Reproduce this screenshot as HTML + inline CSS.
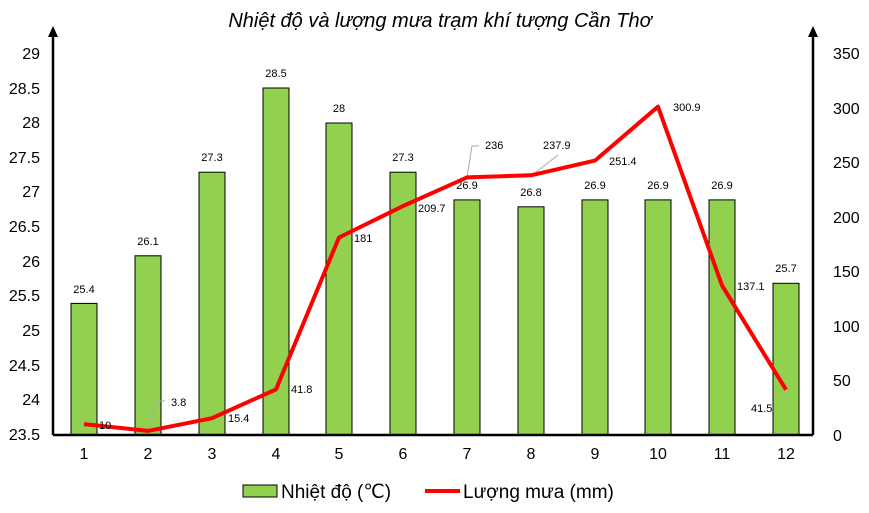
<!DOCTYPE html>
<html><head><meta charset="utf-8"><style>
html,body{margin:0;padding:0;background:#fff;}
svg{display:block;font-family:"Liberation Sans",Arial,sans-serif;}
</style></head><body>
<svg width="869" height="513" viewBox="0 0 869 513" xmlns="http://www.w3.org/2000/svg">
<text x="440" y="27" font-size="20" font-style="italic" text-anchor="middle">Nhiệt độ và lượng mưa trạm khí tượng Cần Thơ</text>
<g font-size="16" text-anchor="end">
<text x="40" y="59">29</text><text x="40" y="94">28.5</text><text x="40" y="128">28</text>
<text x="40" y="163">27.5</text><text x="40" y="197">27</text><text x="40" y="232">26.5</text>
<text x="40" y="267">26</text><text x="40" y="301">25.5</text><text x="40" y="336">25</text>
<text x="40" y="371">24.5</text><text x="40" y="405">24</text><text x="40" y="440">23.5</text>
</g>
<g font-size="16" text-anchor="start">
<text x="833" y="59">350</text><text x="833" y="114">300</text><text x="833" y="168">250</text>
<text x="833" y="223">200</text><text x="833" y="277">150</text><text x="833" y="332">100</text>
<text x="833" y="386">50</text><text x="833" y="441">0</text>
</g>
<g fill="#92d050" stroke="#000" stroke-width="1">
<rect x="71" y="303.4" width="26" height="131.6"/>
<rect x="135" y="255.8" width="26" height="179.2"/>
<rect x="199" y="172.2" width="26" height="262.8"/>
<rect x="263" y="88" width="26" height="347"/>
<rect x="326" y="123" width="26" height="312"/>
<rect x="390" y="172.2" width="26" height="262.8"/>
<rect x="454" y="199.9" width="26" height="235.1"/>
<rect x="518" y="206.8" width="26" height="228.2"/>
<rect x="582" y="199.9" width="26" height="235.1"/>
<rect x="645" y="199.9" width="26" height="235.1"/>
<rect x="709" y="199.9" width="26" height="235.1"/>
<rect x="773" y="283.3" width="26" height="151.7"/>
</g>
<g font-size="11" text-anchor="middle">
<text x="84" y="293">25.4</text><text x="148" y="245">26.1</text><text x="212" y="161">27.3</text>
<text x="276" y="77">28.5</text><text x="339" y="112">28</text><text x="403" y="161">27.3</text>
<text x="467" y="189">26.9</text><text x="531" y="196">26.8</text><text x="595" y="189">26.9</text>
<text x="658" y="189">26.9</text><text x="722" y="189">26.9</text><text x="786" y="272">25.7</text>
</g>
<g stroke="#000" stroke-width="2.5" fill="none">
<line x1="53" y1="435" x2="813" y2="435"/>
<line x1="53" y1="435" x2="53" y2="36"/>
<line x1="813" y1="435" x2="813" y2="36"/>
</g>
<polygon points="53,26 48,37 58,37" fill="#000"/>
<polygon points="813,26 808,37 818,37" fill="#000"/>
<g stroke="#aaa" stroke-width="1" fill="none">
<polyline points="148,431 157,401 165,401"/>
<polyline points="467,177 472,146 479,146"/>
<polyline points="531,176 558,155"/>
</g>
<polyline fill="none" stroke="#ff0000" stroke-width="4" stroke-linejoin="round" points="84,424.1 148,430.9 212,418.2 276,389.4 339,237.5 403,206.1 467,177.4 531,175.3 595,160.6 658,106.6 722,285.4 786,389.7"/>
<g font-size="11">
<text x="99" y="429">10</text><text x="171" y="406">3.8</text><text x="228" y="422">15.4</text>
<text x="291" y="393">41.8</text><text x="354" y="242">181</text><text x="418" y="212">209.7</text>
<text x="485" y="149">236</text><text x="543" y="149">237.9</text><text x="609" y="165">251.4</text>
<text x="673" y="111">300.9</text><text x="737" y="290">137.1</text><text x="751" y="412">41.5</text>
</g>
<g font-size="16" text-anchor="middle">
<text x="84" y="459">1</text><text x="148" y="459">2</text><text x="212" y="459">3</text>
<text x="276" y="459">4</text><text x="339" y="459">5</text><text x="403" y="459">6</text>
<text x="467" y="459">7</text><text x="531" y="459">8</text><text x="595" y="459">9</text>
<text x="658" y="459">10</text><text x="722" y="459">11</text><text x="786" y="459">12</text>
</g>
<rect x="243" y="485" width="34" height="12" fill="#92d050" stroke="#000" stroke-width="1"/>
<text x="281" y="498" font-size="19">Nhiệt độ (℃)</text>
<line x1="425" y1="491" x2="460" y2="491" stroke="#ff0000" stroke-width="4"/>
<text x="463" y="498" font-size="19">Lượng mưa (mm)</text>
</svg>
</body></html>
